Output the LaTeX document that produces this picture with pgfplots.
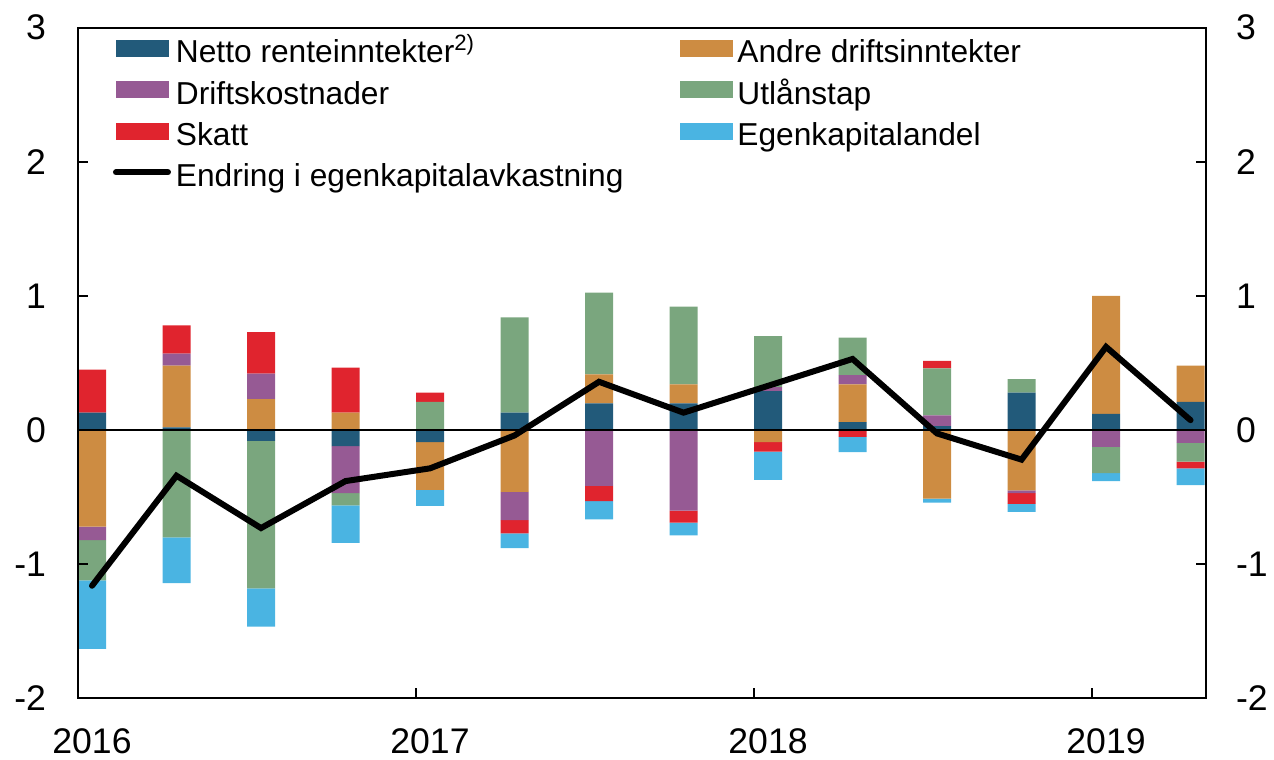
\documentclass[border=0pt]{standalone}
\usepackage{pgfplots}
\pgfplotsset{compat=1.18}
\usepackage{pgfplotstable}
\usepackage{fontspec}
\setmainfont{Liberation Sans}
\definecolor{cNR}{RGB}{34,90,122}
\definecolor{cAD}{RGB}{205,140,66}
\definecolor{cDK}{RGB}{150,90,148}
\definecolor{cUT}{RGB}{122,166,126}
\definecolor{cSK}{RGB}{224,36,46}
\definecolor{cEK}{RGB}{74,180,226}

\pgfplotstableread{
x  NR     AD      DK      UT      SK      EK      L
0  0.13  -0.72   -0.10   -0.30    0.32   -0.51   -1.16
1  0.02   0.46    0.09   -0.80    0.21   -0.34   -0.34
2 -0.08   0.23    0.19   -1.10    0.31   -0.285  -0.73
3 -0.12   0.13   -0.35   -0.09    0.335  -0.28   -0.38
4 -0.09  -0.355   0.00    0.21    0.07   -0.12   -0.285
5  0.13  -0.46   -0.21    0.71   -0.10   -0.11   -0.04
6  0.20   0.215  -0.415   0.61   -0.115  -0.135   0.36
7  0.20   0.14   -0.60    0.58   -0.09   -0.095   0.13
8  0.29  -0.09    0.03    0.38   -0.07   -0.21    0.33
9  0.06   0.28    0.07    0.28   -0.05   -0.115   0.53
10 0.03  -0.51    0.08    0.35    0.055  -0.03   -0.025
11 0.28  -0.45   -0.02    0.10   -0.08   -0.06   -0.22
12 0.12   0.88   -0.125  -0.195   0.00   -0.06    0.62
13 0.21   0.27   -0.095  -0.14   -0.05   -0.125   0.074
}\data

\pgfplotsset{
  base/.style={scale only axis, width=564pt, height=335.5pt,
    xmin=-0.166, xmax=13.183, ymin=-2, ymax=3},
  bars/.style={base, hide axis, ybar stacked, bar width=14pt},
}

\begin{document}
\begin{tikzpicture}
\path[use as bounding box] (-39pt,-30.75pt) rectangle (598pt,349.25pt);
% positive parts
\begin{axis}[bars]
\addplot[fill=cNR, draw=none] table[x=x, y expr={max(\thisrow{NR},0)}] {\data};
\addplot[fill=cAD, draw=none] table[x=x, y expr={max(\thisrow{AD},0)}] {\data};
\addplot[fill=cDK, draw=none] table[x=x, y expr={max(\thisrow{DK},0)}] {\data};
\addplot[fill=cUT, draw=none] table[x=x, y expr={max(\thisrow{UT},0)}] {\data};
\addplot[fill=cSK, draw=none] table[x=x, y expr={max(\thisrow{SK},0)}] {\data};
\addplot[fill=cEK, draw=none] table[x=x, y expr={max(\thisrow{EK},0)}] {\data};
\end{axis}
% negative parts
\begin{axis}[bars]
\addplot[fill=cNR, draw=none] table[x=x, y expr={min(\thisrow{NR},0)}] {\data};
\addplot[fill=cAD, draw=none] table[x=x, y expr={min(\thisrow{AD},0)}] {\data};
\addplot[fill=cDK, draw=none] table[x=x, y expr={min(\thisrow{DK},0)}] {\data};
\addplot[fill=cUT, draw=none] table[x=x, y expr={min(\thisrow{UT},0)}] {\data};
\addplot[fill=cSK, draw=none] table[x=x, y expr={min(\thisrow{SK},0)}] {\data};
\addplot[fill=cEK, draw=none] table[x=x, y expr={min(\thisrow{EK},0)}] {\data};
\end{axis}
% frame, line, legend
\begin{axis}[base,
  axis line style={line width=1pt},
  tick align=inside, major tick length=5pt,
  tick style={black, line width=1pt},
  xtick pos=left,
  xtick={-0.166,3.834,7.834,11.834},
  xticklabels={2016,2017,2018,2019},
  xticklabel style={xshift=7pt, yshift=-11.5pt},
  ytick={-2,-1,0,1,2,3},
  yticklabels={-2,-1,0,1,2,3},
  yticklabel style={xshift=-12.5pt},
  tick label style={font=\fontsize{17.8}{20}\selectfont},
  legend columns=2,
  legend cell align=left,
  legend style={draw=none, fill=none, at={(0.031,0.9944)}, anchor=north west,
    inner sep=0pt, outer sep=0pt, font=\fontsize{15.85}{22.5}\selectfont,
    row sep=3.4pt,
    /tikz/every odd column/.append style={column sep=2.5pt},
    /tikz/every even column/.append style={column sep=28pt},
    nodes={inner sep=0pt}},
]
\addplot[black, line width=0.8pt, no marks, forget plot] coordinates {(-0.166,0) (13.183,0)};
\addlegendimage{legend image code/.code={\fill[cNR] (0pt,-4pt) rectangle (26pt,4pt);}}
\addlegendentry{\strut Netto renteinntekter\textsuperscript{2)}}
\addlegendimage{legend image code/.code={\fill[cAD] (0pt,-4pt) rectangle (26pt,4pt);}}
\addlegendentry{\strut Andre driftsinntekter}
\addlegendimage{legend image code/.code={\fill[cDK] (0pt,-4pt) rectangle (26pt,4pt);}}
\addlegendentry{\strut Driftskostnader}
\addlegendimage{legend image code/.code={\fill[cUT] (0pt,-4pt) rectangle (26pt,4pt);}}
\addlegendentry{\strut Utlånstap}
\addlegendimage{legend image code/.code={\fill[cSK] (0pt,-4pt) rectangle (26pt,4pt);}}
\addlegendentry{\strut Skatt}
\addlegendimage{legend image code/.code={\fill[cEK] (0pt,-4pt) rectangle (26pt,4pt);}}
\addlegendentry{\strut Egenkapitalandel}
\addplot[black, line width=3pt, line cap=round, no marks,
  legend image code/.code={\draw[black, line width=3pt, line cap=round] (0pt,0pt) -- (26pt,0pt);}]
  table[x=x, y=L] {\data};
\addlegendentry{\strut Endring i egenkapitalavkastning}
\end{axis}
% right-hand tick labels
\begin{axis}[base, hide x axis,
  ytick pos=right, yticklabel pos=right,
  major tick length=0pt, axis line style={draw=none},
  ytick={-2,-1,0,1,2,3},
  yticklabels={-2,-1,0,1,2,3},
  yticklabel style={xshift=11.5pt},
  tick label style={font=\fontsize{17.8}{20}\selectfont},
]
\end{axis}
\end{tikzpicture}
\end{document}
